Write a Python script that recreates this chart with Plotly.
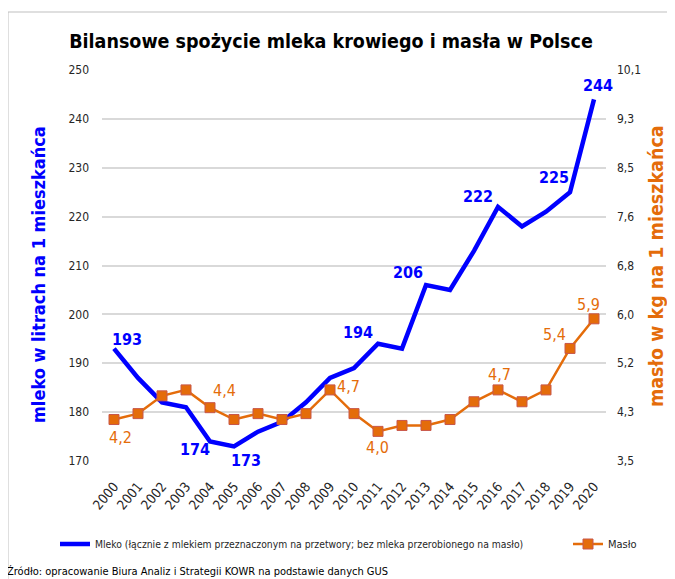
import plotly.graph_objects as go
import numpy as np

# ---------------- data ----------------
years = [str(y) for y in range(2000, 2021)]
milk = [193, 187, 182, 181, 174, 173, 176, 178, 182, 187, 189,
        194, 193, 206, 205, 213, 222, 218, 221, 225, 244]
butter = [4.2, 4.3, 4.6, 4.7, 4.4, 4.2, 4.3, 4.2, 4.3, 4.7, 4.3,
          4.0, 4.1, 4.1, 4.2, 4.5, 4.7, 4.5, 4.7, 5.4, 5.9]
milk_left_ticks = [170, 180, 190, 200, 210, 220, 230, 240, 250]
butter_right_tick_labels = ["3,5", "4,3", "5,2", "6,0", "6,8", "7,6", "8,5", "9,3", "10,1"]
milk_label_years = ["2000", "2004", "2005", "2011", "2013", "2016", "2019", "2020"]
butter_label_years = ["2000", "2004", "2009", "2011", "2016", "2019", "2020"]

title = "Bilansowe spożycie mleka krowiego i masła w Polsce"
milk_name = "Mleko (łącznie z mlekiem przeznaczonym na przetwory; bez mleka przerobionego na masło)"
butter_name = "Masło"
left_title = "mleko w litrach na 1 mieszkańca"
right_title = "masło w kg na 1 mieszkańca"
source = "Źródło: opracowanie Biura Analiz i Strategii KOWR na podstawie danych GUS"

# ---------------- style ----------------
FONT = "DejaVu Sans Condensed, DejaVu Sans, sans-serif"
BLUE = "#0000FF"
ORANGE = "#E46C0A"
W, H = 675, 579
OFF = 8                      # page body margin offset
PW, PH = 504, 391            # plot area size
L, T = 102 - OFF, 70 - OFF
R, B = W - L - PW, H - T - PH

def px_x(p):      # paper fraction from screen pixel x
    return (p - OFF - L) / PW

def px_y(p):      # paper fraction from screen pixel y
    return (H - B - (p - OFF)) / PH

def cx(p):        # container fraction from screen pixel x
    return (p - OFF) / W

def cy(p):
    return 1 - (p - OFF) / H

right_min, right_max = 3.5, 10.1
right_tickvals = list(np.linspace(right_min, right_max, len(butter_right_tick_labels)))

milk_off = {"2000": (13, 9), "2004": (-15, -8), "2005": (12, -14), "2011": (-20, 11),
            "2013": (-18, 13), "2016": (-20, 10), "2019": (-16, 15), "2020": (4, 14)}
butter_off = {"2000": (6, -18), "2004": (14, 17), "2009": (18, 3), "2011": (-1, -16),
              "2016": (1, 15), "2019": (-16, 14), "2020": (-6, 14)}

fig = go.Figure()
fig.add_trace(go.Scatter(
    x=years, y=milk, name=milk_name, mode="lines",
    line=dict(color=BLUE, width=4.5), yaxis="y", legend="legend"))
fig.add_trace(go.Scatter(
    x=years, y=butter, name=butter_name, mode="lines+markers",
    line=dict(color=ORANGE, width=2.5),
    marker=dict(symbol="square", size=10, color=ORANGE, line=dict(color="#C8574A", width=1)),
    yaxis="y2", legend="legend2"))

annotations = []
for yr in milk_label_years:
    i = years.index(yr)
    dx, dy = milk_off[yr]
    annotations.append(dict(x=i, y=milk[i], xref="x", yref="y", text=str(milk[i]),
                            showarrow=False, xshift=dx, yshift=dy,
                            font=dict(family=FONT, size=16, color=BLUE, weight="bold")))
for yr in butter_label_years:
    i = years.index(yr)
    dx, dy = butter_off[yr]
    annotations.append(dict(x=i, y=butter[i], xref="x", yref="y2",
                            text=f"{butter[i]:.1f}".replace(".", ","),
                            showarrow=False, xshift=dx, yshift=dy,
                            font=dict(family=FONT, size=16, color=ORANGE)))
# axis titles
annotations.append(dict(x=px_x(38), y=px_y(275), xref="paper", yref="paper", text=left_title,
                        textangle=-90, showarrow=False, xanchor="center", yanchor="middle",
                        font=dict(family=FONT, size=18, color=BLUE, weight="bold")))
annotations.append(dict(x=px_x(656), y=px_y(266), xref="paper", yref="paper", text=right_title,
                        textangle=-90, showarrow=False, xanchor="center", yanchor="middle",
                        font=dict(family=FONT, size=19.5, color=ORANGE, weight="bold")))
# source note
annotations.append(dict(x=px_x(5), y=px_y(571), xref="paper", yref="paper", xanchor="left",
                        yanchor="middle", text=source, showarrow=False,
                        font=dict(family=FONT, size=11, color="#000000")))

common_axis = dict(showline=False, zeroline=False, ticks="", automargin=False)

fig.update_layout(
    width=W, height=H,
    margin=dict(l=L, r=R, t=T, b=B, autoexpand=False),
    paper_bgcolor="white", plot_bgcolor="white",
    showlegend=True,
    font=dict(family=FONT, size=12, color="#262626"),
    title=dict(text=title, x=cx(331), xref="container", xanchor="center",
               y=cy(41), yref="container", yanchor="middle",
               font=dict(family=FONT, size=19.5, color="#000000", weight="bold")),
    xaxis=dict(type="category", tickangle=-50, showgrid=False, range=[-0.5, len(years) - 0.5],
               tickfont=dict(size=13.5), ticklabelstandoff=14, **common_axis),
    yaxis=dict(range=[170, 250], tickvals=milk_left_ticks, showgrid=True, gridcolor="#D9D9D9",
               gridwidth=1.5, tickfont=dict(size=12), ticklabelstandoff=12, **common_axis),
    yaxis2=dict(range=[right_min, right_max], overlaying="y", side="right",
                tickvals=right_tickvals, ticktext=butter_right_tick_labels,
                showgrid=False, tickfont=dict(size=12), ticklabelstandoff=10, **common_axis),
    legend=dict(orientation="h", xref="container", yref="container",
                x=cx(55), y=cy(544), xanchor="left", yanchor="middle",
                itemwidth=30, font=dict(size=10.3), bgcolor="rgba(0,0,0,0)"),
    legend2=dict(orientation="h", xref="container", yref="container",
                 x=cx(568), y=cy(544), xanchor="left", yanchor="middle",
                 itemwidth=30, font=dict(size=11), bgcolor="rgba(0,0,0,0)"),
    annotations=annotations,
    shapes=[dict(type="rect", xref="paper", yref="paper",
                 x0=px_x(8), x1=px_x(700), y0=px_y(600), y1=px_y(12),
                 line=dict(color="#BFBFBF", width=1), layer="below")],
)

fig.write_html("out.html")
